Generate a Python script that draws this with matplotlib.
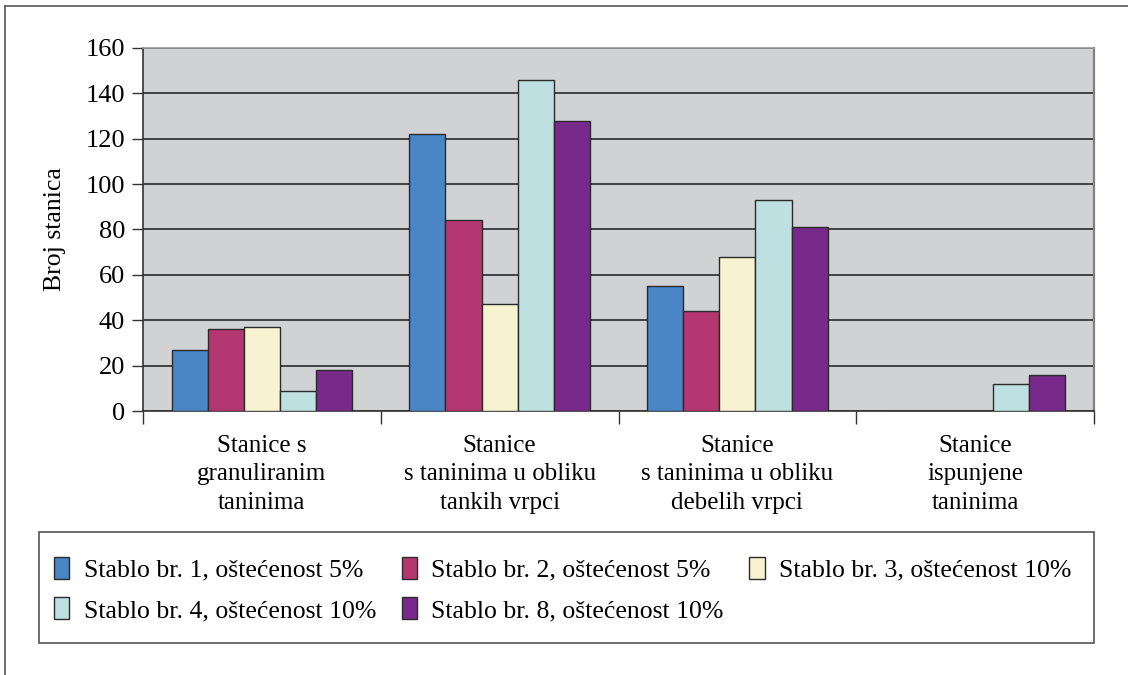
import numpy as np
import matplotlib
matplotlib.use("Agg")
import matplotlib.pyplot as plt
from matplotlib.patches import Rectangle
from matplotlib.lines import Line2D

plt.rcParams['font.family'] = ['Liberation Serif', 'DejaVu Serif']

categories = [
    "Stanice s\ngranuliranim\ntaninima",
    "Stanice\ns taninima u obliku\ntankih vrpci",
    "Stanice\ns taninima u obliku\ndebelih vrpci",
    "Stanice\nispunjene\ntaninima",
]
series_names = [
    "Stablo br. 1, oštećenost 5%",
    "Stablo br. 2, oštećenost 5%",
    "Stablo br. 3, oštećenost 10%",
    "Stablo br. 4, oštećenost 10%",
    "Stablo br. 8, oštećenost 10%",
]
stablo_1 = [27, 122, 55, 0]
stablo_2 = [36, 84, 44, 0]
stablo_3 = [37, 47, 68, 0]
stablo_4 = [9, 146, 93, 12]
stablo_8 = [18, 128, 81, 16]
yticks = [0, 20, 40, 60, 80, 100, 120, 140, 160]

colors = ["#4A86C5", "#B53771", "#F7F3D0", "#BFE0E0", "#782A8A"]
series = [stablo_1, stablo_2, stablo_3, stablo_4, stablo_8]

fig = plt.figure(figsize=(11.28, 6.75), dpi=100)

# outer frame lines (top and left)
fig.add_artist(Line2D([5/1128, 5/1128], [0, 1 - 6/675], transform=fig.transFigure,
                      color="#555555", lw=1.2))
fig.add_artist(Line2D([5/1128, 1], [1 - 6/675, 1 - 6/675], transform=fig.transFigure,
                      color="#555555", lw=1.2))

ax = fig.add_axes([143/1128, 1 - 411/675, (1094 - 143)/1128, (411 - 48)/675])
ax.set_facecolor("#D1D2D4")

x = np.arange(len(categories))
width = 0.152
for i, (vals, col) in enumerate(zip(series, colors)):
    offs = (i - 2) * width
    ax.bar(x + offs, vals, width=width, color=col, edgecolor="#2a2a2a",
           linewidth=1.0, zorder=3, label=series_names[i])

ax.set_xlim(-0.5, len(categories) - 0.5)
ax.set_ylim(0, 160)
ax.set_yticks(yticks)
ax.yaxis.grid(True, color="#2b2b2b", linewidth=1.2, zorder=1)
ax.set_axisbelow(True)

ax.set_xticks(np.arange(-0.5, len(categories), 1.0))
ax.set_xticklabels([])
ax.set_xticks(x, minor=True)
ax.set_xticklabels(categories, minor=True, fontsize=18, linespacing=1.38)
ax.tick_params(axis="x", which="minor", length=0, pad=17)
ax.tick_params(axis="x", which="major", length=9, width=1.0, color="#333333", direction="out")
ax.tick_params(axis="y", length=8, width=1.0, color="#333333", direction="out",
               labelsize=19, pad=5)

ax.spines["left"].set_color("#333333")
ax.spines["left"].set_linewidth(1.2)
ax.spines["bottom"].set_color("#333333")
ax.spines["bottom"].set_linewidth(1.2)
ax.spines["top"].set_color("#9a9a9a")
ax.spines["top"].set_linewidth(1.2)
ax.spines["right"].set_color("#808080")
ax.spines["right"].set_linewidth(1.6)

ax.set_ylabel("Broj stanica", fontsize=18.5, labelpad=14)

# legend box
fig.add_artist(Rectangle((39/1128, 1 - 643/675), (1094 - 39)/1128, (643 - 532)/675,
                         transform=fig.transFigure, facecolor="white",
                         edgecolor="#555555", linewidth=1.2))

handles, labels = ax.get_legend_handles_labels()
order = [0, 3, 1, 4, 2]
leg = fig.legend([handles[k] for k in order], [labels[k] for k in order],
                 ncol=3, loc="upper left", bbox_to_anchor=(54/1128, 1 - 557/675),
                 frameon=False, fontsize=18.5, handlelength=0.6, handleheight=0.95,
                 handletextpad=0.55, columnspacing=1.0, labelspacing=0.6,
                 borderaxespad=0, borderpad=0)

fig.savefig("out.png", dpi=100)
